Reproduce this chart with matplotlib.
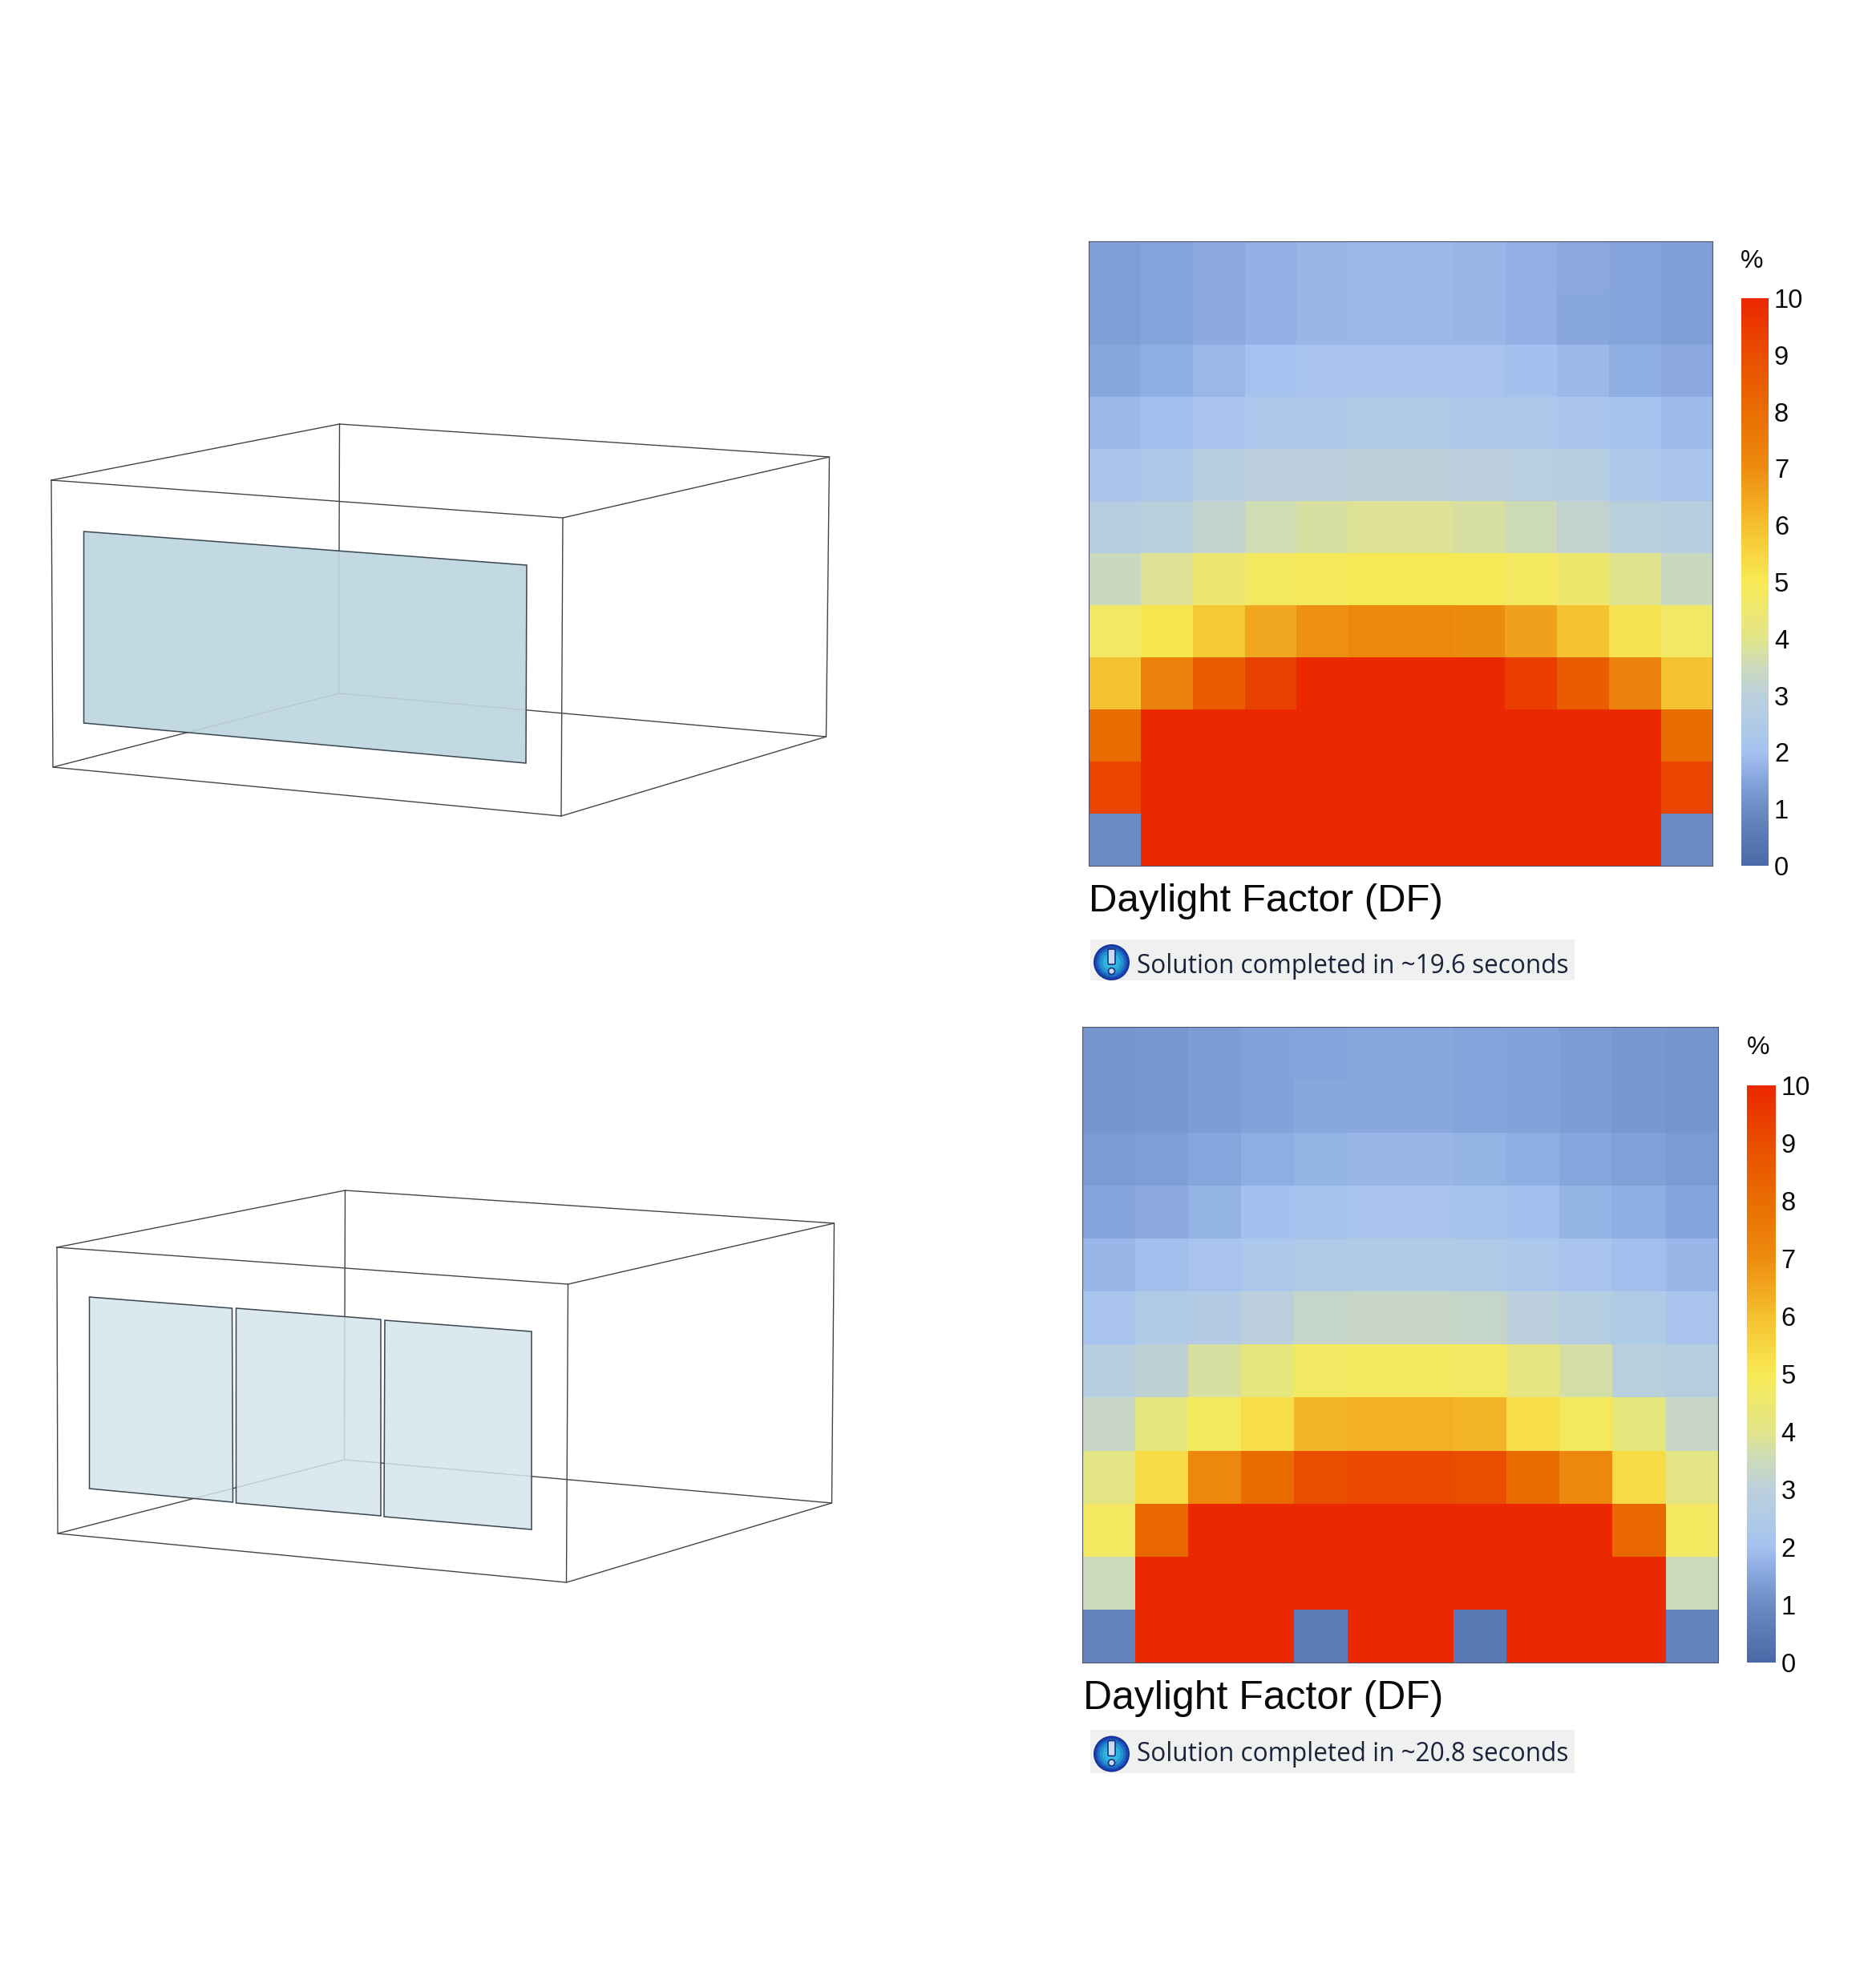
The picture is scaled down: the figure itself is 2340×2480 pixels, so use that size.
import numpy as np
import matplotlib
matplotlib.use("Agg")
import matplotlib.pyplot as plt
from matplotlib.colors import LinearSegmentedColormap
from matplotlib.patches import Circle, FancyBboxPatch, Polygon, Rectangle

W, H = 2340, 2480

# ---------- data ----------
df_single = [
    [1.40, 1.50, 1.60, 1.72, 1.80, 1.85, 1.85, 1.80, 1.70, 1.58, 1.50, 1.40],
    [1.40, 1.50, 1.60, 1.72, 1.80, 1.85, 1.85, 1.80, 1.70, 1.55, 1.50, 1.40],
    [1.55, 1.65, 1.82, 2.00, 2.10, 2.15, 2.15, 2.10, 1.98, 1.85, 1.65, 1.58],
    [1.85, 1.95, 2.10, 2.30, 2.40, 2.45, 2.45, 2.40, 2.30, 2.20, 2.05, 1.90],
    [2.20, 2.35, 2.80, 3.00, 3.00, 3.05, 3.05, 3.00, 2.90, 2.70, 2.40, 2.20],
    [2.75, 2.95, 3.20, 3.60, 3.75, 3.90, 3.90, 3.75, 3.55, 3.20, 2.95, 2.80],
    [3.45, 3.90, 4.50, 4.80, 4.90, 5.00, 5.00, 4.95, 4.80, 4.55, 3.95, 3.45],
    [4.70, 5.10, 5.80, 6.50, 6.90, 7.10, 7.10, 7.00, 6.60, 5.90, 5.15, 4.70],
    [5.90, 7.30, 8.50, 9.30, 10.0, 10.0, 10.0, 10.0, 9.40, 8.50, 7.30, 5.90],
    [8.00, 10.0, 10.0, 10.0, 10.0, 10.0, 10.0, 10.0, 10.0, 10.0, 10.0, 8.00],
    [9.20, 10.0, 10.0, 10.0, 10.0, 10.0, 10.0, 10.0, 10.0, 10.0, 10.0, 9.20],
    [1.00, 10.0, 10.0, 10.0, 10.0, 10.0, 10.0, 10.0, 10.0, 10.0, 10.0, 1.00],
]
df_triple = [
    [1.20, 1.25, 1.35, 1.45, 1.50, 1.55, 1.55, 1.50, 1.45, 1.35, 1.25, 1.20],
    [1.20, 1.25, 1.35, 1.45, 1.55, 1.55, 1.55, 1.50, 1.45, 1.35, 1.25, 1.20],
    [1.32, 1.38, 1.52, 1.65, 1.75, 1.80, 1.80, 1.75, 1.65, 1.52, 1.42, 1.32],
    [1.50, 1.60, 1.75, 1.98, 2.05, 2.10, 2.10, 2.05, 1.98, 1.75, 1.65, 1.50],
    [1.80, 1.95, 2.10, 2.30, 2.45, 2.50, 2.50, 2.45, 2.30, 2.15, 1.95, 1.80],
    [2.10, 2.50, 2.65, 3.00, 3.30, 3.35, 3.35, 3.30, 3.00, 2.70, 2.50, 2.15],
    [2.80, 3.10, 3.75, 4.20, 4.75, 4.80, 4.80, 4.75, 4.15, 3.70, 2.95, 2.70],
    [3.35, 4.20, 4.85, 5.30, 6.20, 6.30, 6.30, 6.20, 5.30, 4.85, 4.20, 3.35],
    [4.10, 5.35, 7.10, 8.00, 9.00, 9.10, 9.10, 9.00, 8.00, 7.10, 5.35, 4.10],
    [4.80, 8.10, 10.0, 10.0, 10.0, 10.0, 10.0, 10.0, 10.0, 10.0, 8.10, 4.80],
    [3.50, 10.0, 10.0, 10.0, 10.0, 10.0, 10.0, 10.0, 10.0, 10.0, 10.0, 3.50],
    [0.80, 10.0, 10.0, 10.0, 0.55, 10.0, 10.0, 0.50, 10.0, 10.0, 10.0, 0.80],
]
cbar_ticks = [0, 1, 2, 3, 4, 5, 6, 7, 8, 9, 10]
titles = ["Daylight Factor (DF)", "Daylight Factor (DF)"]
status = ["Solution completed in ~19.6 seconds", "Solution completed in ~20.8 seconds"]
cbar_unit = "%"

cmap_values = [0, 1, 1.5, 2, 2.5, 3, 3.5, 4, 5, 6, 7, 8, 9, 10]
cmap_colors = ["#4b69a6", "#6b8bc4", "#86a5dc", "#a5c2f0", "#b0cbe6", "#bcd0dc", "#ccdabb",
               "#e2e58a", "#f8ea55", "#f5c02e", "#ee8c10", "#e96d00", "#e94e00", "#eb2800"]

# wireframe vertices, in image pixels
box_single = dict(
    front=[(64, 599), (702, 646), (700, 1018), (66, 957)],
    back=[(423.5, 529), (1034.5, 570), (1030.5, 919), (422.5, 865)],
)
box_triple = dict(
    front=[(71, 1556), (708.5, 1602), (706.5, 1974), (72, 1913)],
    back=[(430.5, 1485), (1040.5, 1526), (1037.5, 1875), (429.5, 1821)],
)
windows_single = [[(104.5, 663), (657, 705), (656, 952), (104.5, 902)]]
windows_triple = [
    [(111.5, 1618), (289.5, 1632), (290.5, 1874), (111.5, 1857)],
    [(294.5, 1632), (475, 1646), (475, 1891), (294.5, 1875)],
    [(480, 1647), (663, 1661), (663, 1908), (479, 1892)],
]

# ---------- drawing ----------
plt.rcParams["font.family"] = ["Liberation Sans", "DejaVu Sans"]
fig = plt.figure(figsize=(W / 100, H / 100), dpi=100, facecolor="white")
cmap = LinearSegmentedColormap.from_list(
    "df", [(v / 10, c) for v, c in zip(cmap_values, cmap_colors)], N=512)


def rect(x0, y0, x1, y1):
    return [x0 / W, 1 - y1 / H, (x1 - x0) / W, (y1 - y0) / H]


over = fig.add_axes([0, 0, 1, 1], zorder=5)
over.set_xlim(0, W)
over.set_ylim(H, 0)
over.axis("off")
over.patch.set_alpha(0)


def heat(values, hrect, crect, pad, unit_xy, title, title_xy, title_size, msg, bar, msg_x, msg_y):
    ax = fig.add_axes(rect(*hrect))
    im = ax.imshow(np.array(values), cmap=cmap, vmin=0, vmax=10, aspect="auto",
                   interpolation="nearest")
    ax.set_xticks([])
    ax.set_yticks([])
    for s in ax.spines.values():
        s.set_color("#4a5568")
        s.set_linewidth(0.8)
    cax = fig.add_axes(rect(*crect))
    cb = fig.colorbar(im, cax=cax, ticks=cbar_ticks)
    cb.outline.set_visible(False)
    cb.ax.tick_params(length=0, pad=pad, labelsize=23.5, labelcolor="#0a0a0a")
    over.text(*unit_xy, cbar_unit, fontsize=23, color="#0a0a0a", ha="center", va="center")
    over.text(*title_xy, title, fontsize=title_size, color="#0a0a0a", ha="left", va="baseline")
    # status strip
    x0, y0, x1, y1 = bar
    over.add_patch(Rectangle((x0, y0), x1 - x0, y1 - y0, fc="#f0f0f0", ec="none", zorder=1))
    cx, cy = x0 + 26.5, (y0 + y1) / 2 + 3
    for r, c in zip([22.5, 20.5, 18, 15, 11, 7],
                    ["#17309a", "#1a4ab0", "#1b6fc4", "#2592d2", "#2fb0dc", "#3cc0e4"]):
        over.add_patch(Circle((cx, cy), r, fc=c, ec="none", zorder=2))
    over.add_patch(FancyBboxPatch((cx - 3, cy - 15), 6, 16, boxstyle="round,pad=1.5",
                                  fc="#c9dcef", ec="#1a2f80", lw=1.2, zorder=3))
    over.add_patch(Circle((cx, cy + 11), 4, fc="#c9dcef", ec="#1a2f80", lw=1.2, zorder=3))
    over.text(msg_x, msg_y, msg, family=["Open Sans", "DejaVu Sans"], fontsize=22.7,
              color="#18233a", ha="left", va="baseline", zorder=4)


def wire(box, windows, fill, alpha, lw_win):
    f, b = box["front"], box["back"]
    line_kw = dict(color="#444444", lw=1.0, solid_capstyle="round", zorder=1)
    for quad in (f, b):
        xs, ys = zip(*(quad + quad[:1]))
        over.plot(xs, ys, **line_kw)
    for p, q in zip(f, b):
        over.plot([p[0], q[0]], [p[1], q[1]], **line_kw)
    for w in windows:
        over.add_patch(Polygon(w, closed=True, fc=fill, ec="none", alpha=alpha, zorder=2))
        over.add_patch(Polygon(w, closed=True, fc="none", ec="#3a4650", lw=lw_win, zorder=3))


wire(box_single, windows_single, "#bed5e1", 0.93, 1.1)
wire(box_triple, windows_triple, "#d5e5ec", 0.85, 1.1)

heat(df_single, (1357.5, 301, 2136, 1080), (2172, 372, 2206, 1080), 5, (2185, 326),
     titles[0], (1358, 1137), 35.4, status[0], (1360, 1172, 1964, 1223), 1418, 1214)
heat(df_triple, (1350, 1281, 2143, 2074), (2179, 1354, 2214.5, 2074), 5, (2193, 1307),
     titles[1], (1351, 2132), 35.9, status[1], (1360, 2158, 1964, 2212), 1418, 2197)

fig.savefig("out.png", dpi=100, facecolor="white")
